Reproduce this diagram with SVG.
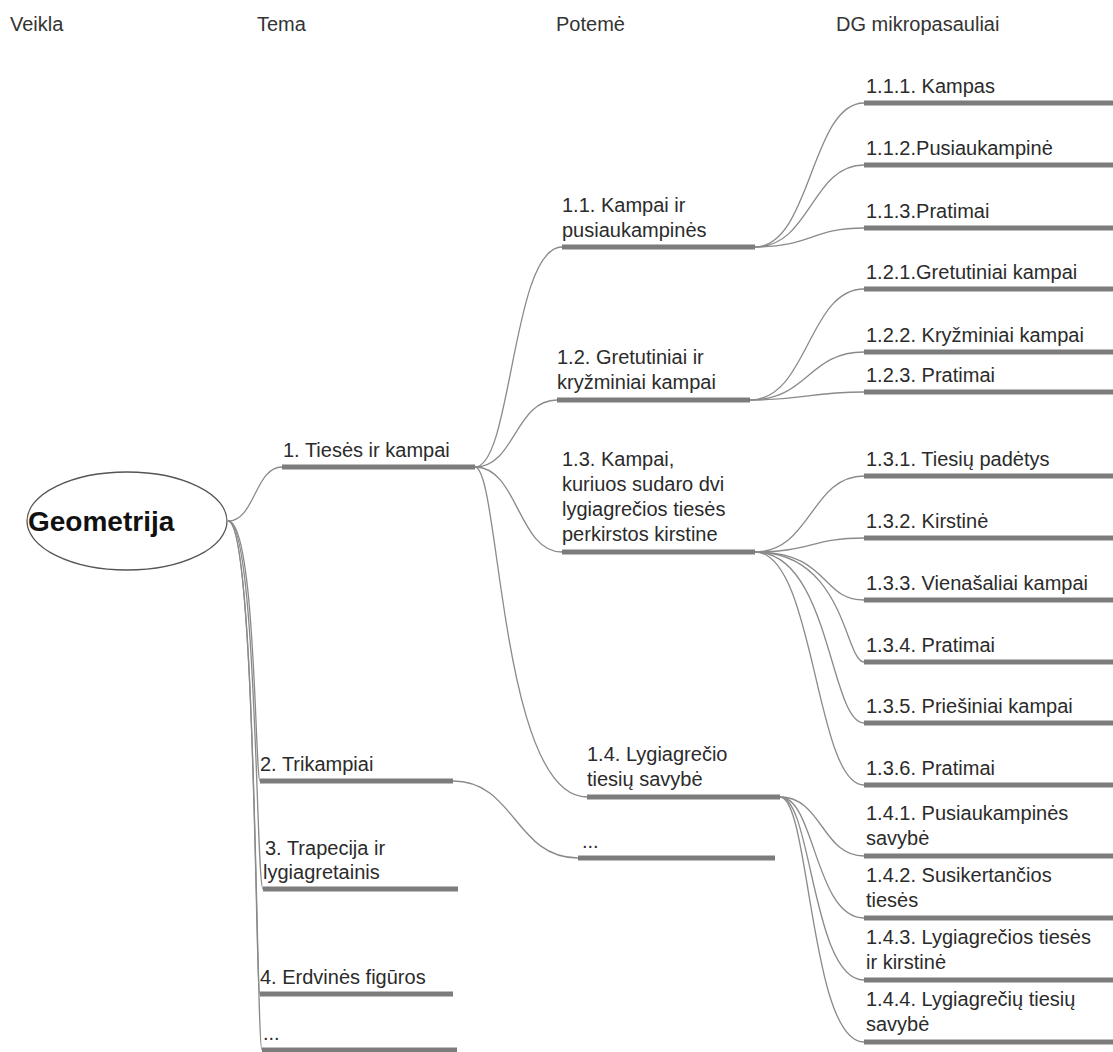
<svg xmlns="http://www.w3.org/2000/svg" width="1113" height="1052" viewBox="0 0 1113 1052">
<style>
text{font-family:"Liberation Sans",Arial,sans-serif;font-size:20px;fill:#2b2b2b}
.hdr{fill:#333}
.root{font-weight:bold;font-size:28px;fill:#111}
.bar{fill:#7c7c7c}
.c{fill:none;stroke:#8a8a8a;stroke-width:1.3}
</style>
<rect width="1113" height="1052" fill="#fff"/>
<g id="headers">
<text class="hdr" x="10" y="31">Veikla</text>
<text class="hdr" x="257" y="31">Tema</text>
<text class="hdr" x="556" y="31">Potemė</text>
<text class="hdr" x="836" y="31">DG mikropasauliai</text>
</g>
<g id="connectors">
<path class="c" d="M228,521 C255,521 255,467 282,467"/>
<path class="c" d="M228,521 C256,521 255,781 260,781"/>
<path class="c" d="M228,521 C257,521 256,889 263,889"/>
<path class="c" d="M228,521 C256,521 255,994 260,994"/>
<path class="c" d="M228,521 C257,521 256,1050 262,1050"/>
<path class="c" d="M475,467 C512,467 512,247 562,247"/>
<path class="c" d="M475,467 C515,467 515,400 557,400"/>
<path class="c" d="M475,467 C518,467 518,552 562,552"/>
<path class="c" d="M475,467 C500,467 500,797 587,797"/>
<path class="c" d="M453,781 C515,781 515,858 578,858"/>
<path class="c" d="M755,247 C811,247 811,103 864,103"/>
<path class="c" d="M755,247 C811,247 811,165 864,165"/>
<path class="c" d="M755,247 C811,247 811,228 864,228"/>
<path class="c" d="M750,400 C808,400 808,289 864,289"/>
<path class="c" d="M750,400 C808,400 808,352 864,352"/>
<path class="c" d="M750,400 C808,400 808,392 864,392"/>
<path class="c" d="M755,552 C811,552 811,476 864,476"/>
<path class="c" d="M755,552 C811,552 811,538 864,538"/>
<path class="c" d="M755,552 C830,552 820,600 864,600"/>
<path class="c" d="M755,552 C845,552 845,662 864,662"/>
<path class="c" d="M755,552 C830,552 830,723 864,723"/>
<path class="c" d="M755,552 C815,552 815,785 864,785"/>
<path class="c" d="M780,797 C822,797 822,856 864,856"/>
<path class="c" d="M780,797 C815,797 815,918 864,918"/>
<path class="c" d="M780,797 C812,797 812,980 864,980"/>
<path class="c" d="M780,797 C810,797 810,1042 864,1042"/>
</g>
<g id="root">
<ellipse cx="127" cy="521" rx="100" ry="49" fill="#fff" stroke="#555" stroke-width="1.3"/>
<text class="root" x="28" y="531">Geometrija</text>
</g>
<g id="t1"><text x="283" y="457">1. Tiesės ir kampai</text><rect class="bar" x="282" y="464.5" width="193" height="5"/></g>
<g id="t2"><text x="260" y="771">2. Trikampiai</text><rect class="bar" x="260" y="778.5" width="193" height="5"/></g>
<g id="t3"><text x="265" y="855">3. Trapecija ir</text><text x="263" y="879">lygiagretainis</text><rect class="bar" x="263" y="886.5" width="195" height="5"/></g>
<g id="t4"><text x="260" y="984">4. Erdvinės figūros</text><rect class="bar" x="260" y="991.5" width="193" height="5"/></g>
<g id="t5"><text x="263" y="1040">...</text><rect class="bar" x="262" y="1047.5" width="195" height="5"/></g>
<g id="s11"><text x="562" y="212">1.1. Kampai ir</text><text x="562" y="237">pusiaukampinės</text><rect class="bar" x="562" y="244.5" width="193" height="5"/></g>
<g id="s12"><text x="557" y="364">1.2. Gretutiniai ir</text><text x="557" y="389">kryžminiai kampai</text><rect class="bar" x="557" y="397.5" width="193" height="5"/></g>
<g id="s13"><text x="562" y="466">1.3. Kampai,</text><text x="562" y="491">kuriuos sudaro dvi</text><text x="562" y="516">lygiagrečios tiesės</text><text x="562" y="541">perkirstos kirstine</text><rect class="bar" x="562" y="549.5" width="193" height="5"/></g>
<g id="s14"><text x="587" y="761">1.4. Lygiagrečio</text><text x="587" y="786">tiesių savybė</text><rect class="bar" x="587" y="794.5" width="193" height="5"/></g>
<g id="s2"><text x="582" y="848">...</text><rect class="bar" x="578" y="855.5" width="197" height="5"/></g>
<g id="m111"><text x="866" y="93">1.1.1. Kampas</text><rect class="bar" x="864" y="100.5" width="249" height="5"/></g>
<g id="m112"><text x="866" y="155">1.1.2.Pusiaukampinė</text><rect class="bar" x="864" y="162.5" width="249" height="5"/></g>
<g id="m113"><text x="866" y="218">1.1.3.Pratimai</text><rect class="bar" x="864" y="225.5" width="249" height="5"/></g>
<g id="m121"><text x="866" y="279">1.2.1.Gretutiniai kampai</text><rect class="bar" x="864" y="286.5" width="249" height="5"/></g>
<g id="m122"><text x="866" y="342">1.2.2. Kryžminiai kampai</text><rect class="bar" x="864" y="349.5" width="249" height="5"/></g>
<g id="m123"><text x="866" y="382">1.2.3. Pratimai</text><rect class="bar" x="864" y="389.5" width="249" height="5"/></g>
<g id="m131"><text x="866" y="466">1.3.1. Tiesių padėtys</text><rect class="bar" x="864" y="473.5" width="249" height="5"/></g>
<g id="m132"><text x="866" y="528">1.3.2. Kirstinė</text><rect class="bar" x="864" y="535.5" width="249" height="5"/></g>
<g id="m133"><text x="866" y="590">1.3.3. Vienašaliai kampai</text><rect class="bar" x="864" y="597.5" width="249" height="5"/></g>
<g id="m134"><text x="866" y="652">1.3.4. Pratimai</text><rect class="bar" x="864" y="659.5" width="249" height="5"/></g>
<g id="m135"><text x="866" y="713">1.3.5. Priešiniai kampai</text><rect class="bar" x="864" y="720.5" width="249" height="5"/></g>
<g id="m136"><text x="866" y="775">1.3.6. Pratimai</text><rect class="bar" x="864" y="782.5" width="249" height="5"/></g>
<g id="m141"><text x="866" y="820">1.4.1. Pusiaukampinės</text><text x="866" y="845">savybė</text><rect class="bar" x="864" y="853.5" width="249" height="5"/></g>
<g id="m142"><text x="866" y="882">1.4.2. Susikertančios</text><text x="866" y="907">tiesės</text><rect class="bar" x="864" y="915.5" width="249" height="5"/></g>
<g id="m143"><text x="866" y="944">1.4.3. Lygiagrečios tiesės</text><text x="866" y="969">ir kirstinė</text><rect class="bar" x="864" y="977.5" width="249" height="5"/></g>
<g id="m144"><text x="866" y="1006">1.4.4. Lygiagrečių tiesių</text><text x="866" y="1031">savybė</text><rect class="bar" x="864" y="1039.5" width="249" height="5"/></g>
</svg>
